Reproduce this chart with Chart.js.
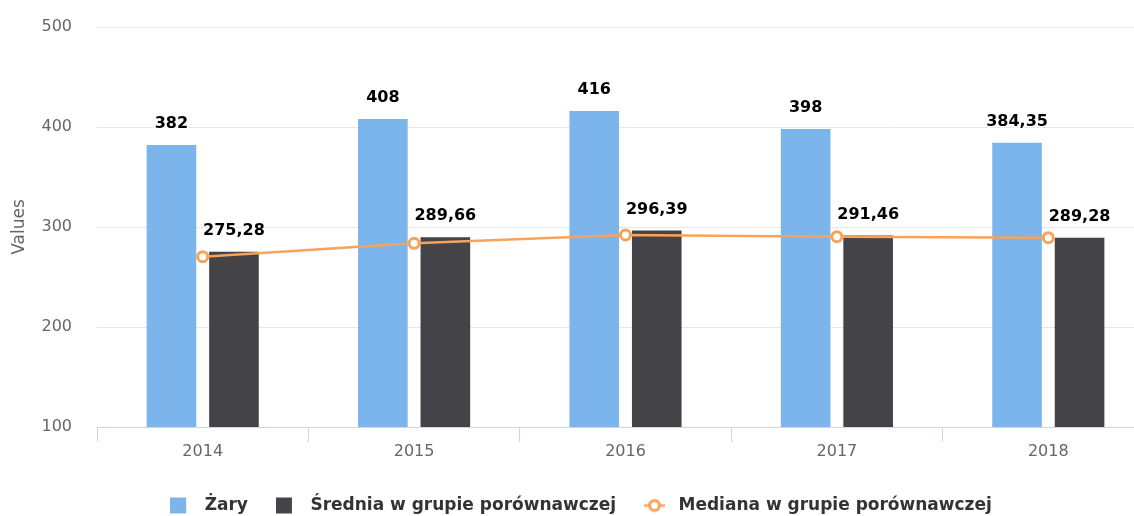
<!DOCTYPE html>
<html>
<head>
<meta charset="utf-8">
<script src="https://cdn.jsdelivr.net/npm/chart.js@4/dist/chart.umd.min.js"></script>
<style>
  html, body { margin: 0; padding: 0; background: #fff; }
  #wrap { width: 1134px; height: 516px; overflow: hidden; position: relative; }
  #c { display: block; }
</style>
</head>
<body>
<div id="wrap"><canvas id="c" width="1162" height="516"></canvas></div>
<script>
const categories = ['2014', '2015', '2016', '2017', '2018'];
const zaryValues = [382, 408, 416, 398, 384.35];
const sredniaValues = [275.28, 289.66, 296.39, 291.46, 289.28];
const medianaValues = [270.3, 283.7, 292, 290.3, 289.3];
const seriesNames = ['Żary', 'Średnia w grupie porównawczej', 'Mediana w grupie porównawczej'];
const yTicks = [100, 200, 300, 400, 500];

const BLUE = '#7cb5ec', DARK = '#434348', ORANGE = '#f7a35c';
const FONT = "'DejaVu Sans', Verdana, sans-serif";

function legendIcon(kind, color) {
  const c = document.createElement('canvas');
  c.width = 26; c.height = 18;
  const g = c.getContext('2d');
  if (kind === 'rect') {
    g.fillStyle = color;
    g.fillRect(0, 1, 16, 16);
  } else {
    g.strokeStyle = color; g.lineWidth = 2.5;
    g.beginPath(); g.moveTo(0, 9); g.lineTo(21, 9); g.stroke();
    g.beginPath(); g.arc(10.5, 9, 5, 0, Math.PI * 2);
    g.fillStyle = '#fff'; g.fill(); g.lineWidth = 3; g.stroke();
  }
  return c;
}
const icons = [legendIcon('rect', BLUE), legendIcon('rect', DARK), legendIcon('line', ORANGE)];

function fmt(v) {
  return Number.isInteger(v) ? String(v) : v.toFixed(2).replace('.', ',');
}

const dataLabels = {
  id: 'dataLabels',
  afterDatasetsDraw(chart) {
    const ctx = chart.ctx;
    ctx.save();
    ctx.font = 'bold 16px ' + FONT;
    ctx.textAlign = 'center';
    ctx.textBaseline = 'middle';
    ctx.lineJoin = 'round';
    [0, 1].forEach(di => {
      const meta = chart.getDatasetMeta(di);
      const vals = chart.data.datasets[di].data;
      meta.data.forEach((el, i) => {
        const t = fmt(vals[i]);
        const y = el.y - 21;
        ctx.strokeStyle = '#fff'; ctx.lineWidth = 3;
        ctx.strokeText(t, el.x, y);
        ctx.fillStyle = '#000';
        ctx.fillText(t, el.x, y);
      });
    });
    ctx.restore();
  }
};

new Chart(document.getElementById('c'), {
  data: {
    labels: categories,
    datasets: [
      { type: 'bar', label: seriesNames[0], data: zaryValues, backgroundColor: BLUE, order: 1,
        categoryPercentage: 0.5915, barPercentage: 0.7937, pointStyle: icons[0] },
      { type: 'bar', label: seriesNames[1], data: sredniaValues, backgroundColor: DARK, order: 1,
        categoryPercentage: 0.5915, barPercentage: 0.7937, pointStyle: icons[1] },
      { type: 'line', label: seriesNames[2], data: medianaValues, borderColor: ORANGE, borderWidth: 2.5,
        pointRadius: 5, pointBackgroundColor: '#fff', pointBorderColor: ORANGE, pointBorderWidth: 3,
        tension: 0, order: 0, pointStyle: 'circle' }
    ]
  },
  options: {
    responsive: false,
    animation: false,
    devicePixelRatio: 1,
    layout: { padding: { top: 27, left: 0, right: 0, bottom: -8 } },
    plugins: {
      tooltip: { enabled: false },
      legend: {
        position: 'bottom',
        labels: {
          usePointStyle: true,
          pointStyleWidth: 26,
          boxHeight: 16,
          padding: 28,
          color: '#333333',
          font: { family: FONT, size: 17, weight: 'bold' },
          generateLabels(chart) {
            return chart.data.datasets.map((ds, i) => ({
              text: ds.label, datasetIndex: i, pointStyle: icons[i],
              fillStyle: 'transparent', strokeStyle: 'transparent', lineWidth: 0,
              fontColor: '#333333', hidden: false
            }));
          }
        }
      }
    },
    scales: {
      x: {
        offset: true,
        grid: { display: true, drawOnChartArea: false, drawTicks: true, tickLength: 15, color: '#ccd6eb', offset: true },
        border: { display: true, color: '#ccd6eb', width: 1 },
        ticks: { color: '#666666', font: { family: FONT, size: 16 }, padding: 0, maxRotation: 0 },
        afterFit(s) { s.height = 42; }
      },
      y: {
        min: 100, max: 500,
        afterBuildTicks(s) { s.ticks = yTicks.map(v => ({ value: v })); },
        grid: { color: '#e6e6e6', lineWidth: 1, drawTicks: true, tickLength: 20, tickColor: 'rgba(0,0,0,0)' },
        border: { display: false },
        ticks: { color: '#666666', font: { family: FONT, size: 16 }, padding: 5 },
        title: { display: true, text: 'Values', color: '#666666', font: { family: FONT, size: 17 }, padding: { top: 9, bottom: 0 } },
        afterFit(s) { s.width = 97; }
      }
    }
  },
  plugins: [dataLabels]
});
</script>
</body>
</html>
